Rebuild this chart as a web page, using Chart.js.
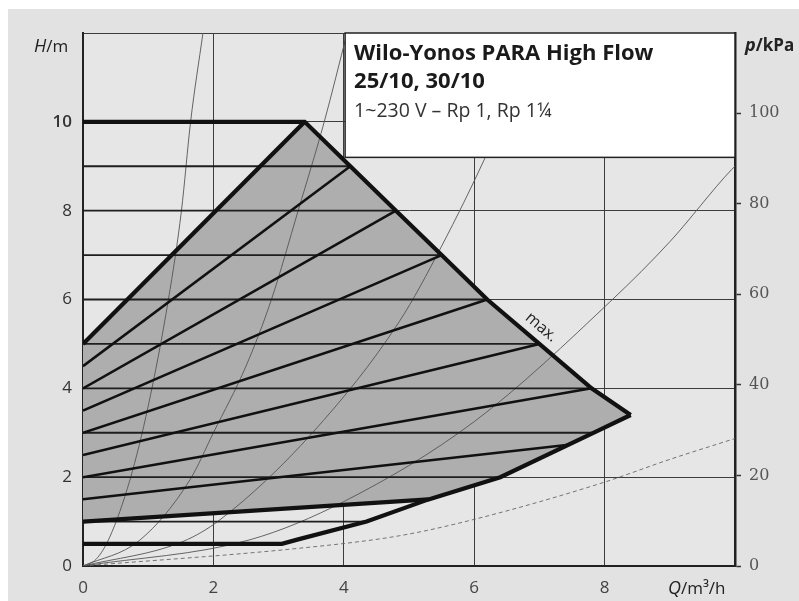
<!DOCTYPE html>
<html>
<head>
<meta charset="utf-8">
<script src="https://cdn.jsdelivr.net/npm/chart.js@4.4.0/dist/chart.umd.min.js"></script>
<style>
  html, body { margin: 0; padding: 0; background: #fff; }
  #wrap { width: 799px; height: 601px; position: relative; }
</style>
</head>
<body>
<div id="wrap"><canvas id="pumpChart"></canvas></div>
<script>
// tick values
const qTicks = [0, 2, 4, 6, 8, 10];
const hTicks = [0, 2, 4, 6, 8, 10, 12];
const pTicks = [0, 20, 40, 60, 80, 100];

// max curve (10 m plateau, then falling edge)
const maxQ = [0, 3.4, 4.1, 4.8, 5.5, 6.2, 7.0, 7.8, 8.4];
const maxH = [10, 10, 9, 8, 7, 6, 5, 4, 3.4];

// min curve (0.5 m plateau, then rising edge)
const minQ = [0, 3.05, 3.3, 4.35, 5.3, 6.4, 7.9, 8.4];
const minH = [0.5, 0.5, 0.6, 1.0, 1.5, 2.0, 3.05, 3.4];

// dp-v lines: start height at Q=0, end point on max/min curve
const dpvStartH = [5, 4.5, 4, 3.5, 3, 2.5, 2, 1.5, 1];
const dpvEndQ = [3.4, 4.1, 4.8, 5.5, 6.2, 7.0, 7.8, 7.45, 5.3];
const dpvEndH = [10, 9, 8, 7, 6, 5, 4, 2.73, 1.5];

// dp-c lines: constant height, end on max/min curve
const dpcH = [1, 2, 3, 4, 5, 6, 7, 8, 9];
const dpcEndQ = [4.35, 6.4, 7.87, 7.8, 7.0, 6.2, 5.5, 4.8, 4.1];

// system curves
const sysA_Q = [0, 0.2, 0.41, 0.72, 1.0, 1.31, 1.51, 1.65, 1.84];
const sysA_H = [0, 0.15, 0.65, 1.94, 3.6, 6.0, 8.0, 10.0, 12.0];
const sysB_Q = [0, 0.87, 1.64, 2.0, 2.5, 2.89, 3.3, 3.7, 4.05];
const sysB_H = [0, 0.58, 1.94, 3.0, 4.5, 6.0, 8.0, 10.0, 12.0];
const sysC_Q = [0, 1.53, 2.1, 3.52, 4.85, 5.5, 6.18, 7.0];
const sysC_H = [0, 0.55, 1.04, 3.0, 5.5, 7.2, 9.23, 12.0];
const sysD_Q = [0, 2.56, 4.0, 6.0, 8.12, 9.0, 9.95, 10.0];
const sysD_H = [0, 0.59, 1.45, 3.25, 6.0, 7.3, 8.93, 9.0];
const sysE_Q = [0, 3.32, 4.85, 6.0, 7.96, 9.0, 10.0];
const sysE_H = [0, 0.4, 0.68, 1.05, 1.87, 2.4, 2.87];

const KPA_PER_M = 9.81;

function pts(xs, ys) {
    return xs.map(function(x, i) { return { x: x, y: ys[i] }; });
}

// shaded operating field
const fieldPts = [{ x: 0, y: dpvStartH[dpvStartH.length - 1] }, { x: 0, y: dpvStartH[0] }]
    .concat(pts(maxQ.slice(1), maxH.slice(1)))
    .concat(pts(minQ.slice(4).reverse(), minH.slice(4).reverse()))
    .concat([{ x: 0, y: dpvStartH[dpvStartH.length - 1] }]);

const datasets = [];

datasets.push({
    data: fieldPts,
    borderWidth: 0,
    borderColor: 'rgba(0,0,0,0)',
    backgroundColor: '#aeaeae',
    fill: 'shape',
    order: 20
});

[[sysA_Q, sysA_H], [sysB_Q, sysB_H], [sysC_Q, sysC_H], [sysD_Q, sysD_H]].forEach(function(c) {
    datasets.push({
        data: pts(c[0], c[1]),
        borderColor: '#555',
        borderWidth: 0.9,
        cubicInterpolationMode: 'monotone',
        fill: false,
        order: 10
    });
});
datasets.push({
    data: pts(sysE_Q, sysE_H),
    borderColor: '#666',
    borderWidth: 0.9,
    borderDash: [4, 3],
    cubicInterpolationMode: 'monotone',
    fill: false,
    order: 10
});

dpcH.forEach(function(h, i) {
    datasets.push({
        data: [{ x: 0, y: h }, { x: dpcEndQ[i], y: h }],
        borderColor: '#1e1e1e',
        borderWidth: 1.8,
        fill: false,
        order: 6
    });
});

dpvStartH.forEach(function(h, i) {
    const thick = (i === 0 || i === dpvStartH.length - 1);
    datasets.push({
        data: [{ x: 0, y: h }, { x: dpvEndQ[i], y: dpvEndH[i] }],
        borderColor: '#111',
        borderWidth: thick ? 4.2 : 2.5,
        fill: false,
        order: thick ? 2 : 4
    });
});

datasets.push({
    data: pts(maxQ, maxH),
    borderColor: '#111',
    borderWidth: 4.2,
    fill: false,
    order: 1
});
datasets.push({
    data: pts(minQ, minH),
    borderColor: '#111',
    borderWidth: 4.2,
    fill: false,
    order: 1
});

const backdrop = {
    id: 'backdrop',
    beforeDraw: function(chart) {
        const c = chart.ctx, a = chart.chartArea;
        c.save();
        c.fillStyle = '#ffffff';
        c.fillRect(0, 0, chart.width, chart.height);
        c.fillStyle = '#e2e2e2';
        c.fillRect(8, 9, chart.width - 8, chart.height - 9);
        c.fillStyle = '#e6e6e6';
        c.fillRect(a.left, a.top, a.right - a.left, a.bottom - a.top);
        c.restore();
    }
};

const overlay = {
    id: 'overlay',
    afterDatasetsDraw: function(chart) {
        const c = chart.ctx, a = chart.chartArea;
        const xs = chart.scales.x, ys = chart.scales.y;
        // title box
        const bl = xs.getPixelForValue(4.02), bb = ys.getPixelForValue(9.2);
        c.save();
        c.fillStyle = '#ffffff';
        c.fillRect(bl, a.top, a.right - bl, bb - a.top);
        c.strokeStyle = '#222';
        c.lineWidth = 1.5;
        c.strokeRect(bl, a.top, a.right - bl, bb - a.top);
        c.fillStyle = '#1a1a1a';
        c.textBaseline = 'alphabetic';
        c.font = 'bold 22px "Open Sans"';
        c.fillText('Wilo-Yonos PARA High Flow', bl + 9, a.top + 27);
        c.fillText('25/10, 30/10', bl + 9, a.top + 55);
        c.fillStyle = '#333';
        c.font = '19.5px "Open Sans"';
        c.fillText('1~230 V \u2013 Rp 1, Rp 1\u00bc', bl + 9, a.top + 84);

        // "max." along the max curve
        const p1x = xs.getPixelForValue(maxQ[5]), p1y = ys.getPixelForValue(maxH[5]);
        const p2x = xs.getPixelForValue(maxQ[6]), p2y = ys.getPixelForValue(maxH[6]);
        const ang = Math.atan2(p2y - p1y, p2x - p1x);
        const ax = xs.getPixelForValue(6.9), ay = ys.getPixelForValue(5.15);
        c.translate(ax + Math.sin(ang) * 13, ay - Math.cos(ang) * 13);
        c.rotate(ang);
        c.font = '16px "Open Sans"';
        c.fillStyle = '#222';
        c.textAlign = 'center';
        c.textBaseline = 'middle';
        c.fillText('max.', 0, 0);
        c.restore();
    },
    afterDraw: function(chart) {
        const c = chart.ctx;
        c.save();
        c.fillStyle = '#222';
        c.textBaseline = 'alphabetic';
        // H/m
        c.font = 'italic 18px "Open Sans"';
        c.fillText('H', 34, 52);
        const wH = c.measureText('H').width;
        c.font = '17px "Open Sans"';
        c.fillText('/m', 34 + wH, 52);
        // p/kPa
        c.font = 'italic bold 18px "Open Sans"';
        c.fillText('p', 745, 51);
        const wp = c.measureText('p').width;
        c.font = 'bold 17px "Open Sans"';
        c.fillText('/kPa', 745 + wp, 51);
        // Q/m³/h
        c.font = 'italic 18px "Open Sans"';
        c.fillText('Q', 668, 594);
        const wQ = c.measureText('Q').width;
        c.font = '17px "Open Sans"';
        c.fillText('/m\u00b3/h', 668 + wQ, 594);
        c.restore();
    }
};

const ctx = document.getElementById('pumpChart');

new Chart(ctx, {
    type: 'line',
    data: { datasets: datasets },
    plugins: [backdrop, overlay],
    options: {
        responsive: true,
        maintainAspectRatio: false,
        animation: false,
        layout: { padding: { top: 33, left: 0, right: 0, bottom: 0 } },
        elements: { point: { radius: 0, hoverRadius: 0 }, line: { tension: 0 } },
        plugins: { legend: { display: false }, tooltip: { enabled: false } },
        scales: {
            x: {
                type: 'linear',
                min: 0,
                max: 10,
                afterBuildTicks: function(s) { s.ticks = qTicks.map(function(v) { return { value: v }; }); },
                afterFit: function(s) { s.height = 35; },
                grid: { color: '#3c3c3c', lineWidth: 1, drawTicks: false },
                border: { color: '#222', width: 2 },
                ticks: {
                    autoSkip: false,
                    maxRotation: 0,
                    padding: 12,
                    color: '#444',
                    font: { family: 'Open Sans', size: 17 },
                    callback: function(v) { return v === 10 ? '' : v; }
                }
            },
            y: {
                position: 'left',
                min: 0,
                max: 12,
                afterBuildTicks: function(s) { s.ticks = hTicks.map(function(v) { return { value: v }; }); },
                afterFit: function(s) { s.width = 83; },
                grid: { color: '#3c3c3c', lineWidth: 1, drawTicks: false },
                border: { color: '#222', width: 2 },
                ticks: {
                    padding: 11,
                    color: '#333',
                    font: function(c) {
                        return { family: 'Open Sans', size: 17, weight: c.tick && c.tick.value === 10 ? '600' : 'normal' };
                    },
                    callback: function(v) { return v === 12 ? '' : v; }
                }
            },
            y2: {
                position: 'right',
                min: 0,
                max: 12 * KPA_PER_M,
                afterBuildTicks: function(s) { s.ticks = pTicks.map(function(v) { return { value: v }; }); },
                afterFit: function(s) { s.width = 64; },
                grid: { drawOnChartArea: false, drawTicks: true, tickLength: 6, tickColor: '#333', tickWidth: 1.5 },
                border: { color: '#222', width: 2.5 },
                ticks: {
                    padding: 8,
                    color: '#555',
                    font: { family: 'DejaVu Serif', size: 16 }
                }
            }
        }
    }
});
</script>
</body>
</html>
